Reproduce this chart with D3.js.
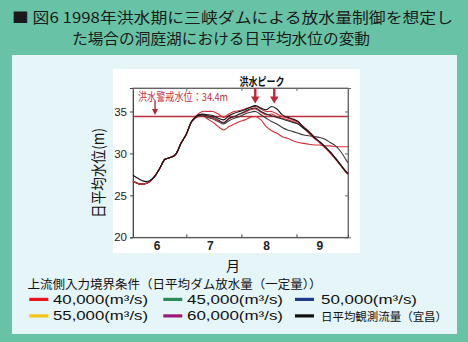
<!DOCTYPE html>
<html><head><meta charset="utf-8">
<script src="https://cdn.jsdelivr.net/npm/d3@7"></script>
<style>
html,body{margin:0;padding:0;background:#68c3a6;}
svg{display:block;}
</style></head>
<body>
<script>
// ---- data ----
const days = [0,3,6,9,12,15,18,21,24,27,30,33,36,39,42,45,48,51,54,57,60,63,66,69,72,75,78,81,84,87,90,93,96,99,102,105,108,111,114,117,120,121];
const common = [null,null,null,null,27.2,28.2,29.3,29.5,29.9,31.2,32.3,33.8];
const obsStart = [27.4,27.0,26.7,26.7];
const simStart = [26.7,26.4,26.35,26.6];
const observed = [34.5,34.7,34.6,34.5,34.2,34.0,34.5,34.8,35.0,35.2,35.5,35.7,35.4,35.2,35.6,35.3,34.6,34.3,34.1,33.8,33.1,32.6,31.9,31.4,30.8,30.2,29.4,28.6,27.8,27.6];
const q60 = [34.6,35.0,35.0,35.0,34.7,34.3,34.7,35.0,35.1,35.3,35.5,35.6,35.3,35.0,35.0,34.7,34.4,34.2,34.0,33.7,33.2,32.6,32.0,31.3,30.7,30.1,29.4,28.6,27.8,27.5];
const q55 = [34.5,34.6,34.5,34.3,34.0,33.6,34.2,34.4,34.7,35.0,35.3,35.4,35.0,34.7,34.5,34.3,34.1,33.9,33.7,33.5,33.0,32.5,31.9,31.4,30.8,30.1,29.4,28.6,27.8,27.6];
const q50 = [34.5,34.6,34.4,34.2,33.9,33.7,34.1,34.4,34.7,34.9,35.2,35.3,34.9,34.6,34.7,34.4,34.2,34.0,33.8,33.5,33.0,32.4,31.8,31.3,30.7,30.0,29.3,28.5,27.7,27.5];
const q45 = [34.4,34.5,34.3,34.1,33.8,33.5,33.9,34.2,34.4,34.7,34.9,35.0,34.6,34.2,33.8,33.5,33.1,32.8,32.6,32.4,32.2,32.1,32.0,31.9,31.7,31.3,30.9,30.2,29.2,28.9];
const q40 = [34.3,34.5,34.1,33.7,33.2,32.8,33.2,33.5,33.8,34.0,34.3,34.4,34.0,33.2,32.7,32.4,32.0,31.8,31.5,31.3,31.2,31.1,31.0,31.0,30.9,30.9,30.8,30.8,30.8,30.8];
const lineColors = ["#d8303c","#3a3a3a","#d8303c","#2a2a2a","#d8303c","#111111"];
const warningLevel = 34.4;
const warningArrowDay = 12.4;
const peakDays = [68.8, 79.5];
const monthBoundaryDays = [30, 61, 92];
const monthLabels = ["6","7","8","9"];
const monthLabelDays = [13.5, 43.5, 75.2, 105.2];
const yTicks = [20,25,30,35];
const legendLabels = ["40,000(m³/s)","45,000(m³/s)","50,000(m³/s)","55,000(m³/s)","60,000(m³/s)","日平均観測流量（宜昌）"];
const legendColors = ["#e8141c","#2e8a58","#1c3a8e","#f4c51a","#9c1875","#111111"];

// ---- build series ----
function build(start, tail){ return start.concat(common.slice(4)).concat(tail); }
const seriesVals = [
  build(simStart,q40), build(simStart,q45), build(simStart,q50),
  build(simStart,q55), build(simStart,q60), build(obsStart,observed)
];

const W=468,H=342;
const svg=d3.select("body").append("svg").attr("width",W).attr("height",H);
svg.append("rect").attr("width",W).attr("height",H).attr("fill","#68c3a6");

const jp='"Noto Sans CJK JP","Noto Sans",sans-serif';
const lat='"Liberation Sans", Arial, sans-serif';
// title
svg.append("text").attr("x",12).attr("y",16).attr("dominant-baseline","central")
  .attr("font-family",jp).attr("font-size",14.5).attr("fill","#1a1a1a")
  .attr("textLength",441).attr("lengthAdjust","spacingAndGlyphs")
  .text("■ 図6 1998年洪水期に三峡ダムによる放水量制御を想定し");
svg.append("text").attr("x",72).attr("y",37).attr("dominant-baseline","central")
  .attr("font-family",jp).attr("font-size",14.5).attr("fill","#1a1a1a")
  .attr("textLength",298).attr("lengthAdjust","spacingAndGlyphs")
  .text("た場合の洞庭湖における日平均水位の変動");

// panel
svg.append("rect").attr("x",12).attr("y",55).attr("width",445).attr("height",279).attr("fill","#e5f5f8");
svg.append("rect").attr("x",113).attr("y",69).attr("width",247).attr("height",184).attr("fill","#ffffff");

const x=d3.scaleLinear().domain([0,121]).range([133,348]);
const y=d3.scaleLinear().domain([20,37.8]).range([237.3,88]);

// frame
const g=svg.append("g");
g.append("rect").attr("x",x(0)).attr("y",y(37.8)).attr("width",x(121)-x(0)).attr("height",y(20)-y(37.8))
  .attr("fill","none").attr("stroke","#666").attr("stroke-width",0.8);

// y axis
const yAxis=d3.axisLeft(y).tickValues(yTicks).tickSize(3).tickPadding(3);
const ya=g.append("g").attr("transform",`translate(${x(0)},0)`).call(yAxis);
ya.select(".domain").attr("stroke","#444");
ya.selectAll(".tick line").attr("stroke","#444");
ya.selectAll(".tick text").attr("font-family",lat).attr("font-size",11.5).attr("fill","#222");
// right ticks
const yr=g.append("g").attr("transform",`translate(${x(121)},0)`).call(d3.axisRight(y).tickValues(yTicks).tickSize(3).tickFormat(""));
yr.select(".domain").attr("stroke","#666");
yr.selectAll(".tick line").attr("stroke","#666").attr("transform","translate(-3,0)");

// x axis ticks at month boundaries
const xa=g.append("g").attr("transform",`translate(0,${y(20)})`)
  .call(d3.axisBottom(x).tickValues(monthBoundaryDays).tickSize(-3).tickFormat(""));
xa.select(".domain").attr("stroke","#444");
xa.selectAll(".tick line").attr("stroke","#444");
const xt=g.append("g").attr("transform",`translate(0,${y(37.8)})`)
  .call(d3.axisTop(x).tickValues(monthBoundaryDays).tickSize(-3).tickFormat(""));
xt.select(".domain").attr("stroke","#666");
xt.selectAll(".tick line").attr("stroke","#666");

g.selectAll(".mlab").data(monthLabels).enter().append("text")
  .attr("x",(d,i)=>x(monthLabelDays[i])).attr("y",246).attr("text-anchor","middle").attr("dominant-baseline","central")
  .attr("font-family",lat).attr("font-size",12).attr("font-weight","bold").attr("fill","#222")
  .text(d=>d);

// warning line
g.append("line").attr("x1",x(0)).attr("x2",x(121)).attr("y1",y(warningLevel)).attr("y2",y(warningLevel))
  .attr("stroke","#b8303e").attr("stroke-width",1.5);

// series
const line=d3.line().x((d,i)=>x(days[i])).y(d=>y(d)).curve(d3.curveCatmullRom.alpha(0.5));
g.selectAll(".series").data(seriesVals).enter().append("path")
  .attr("d",d=>line(d)).attr("fill","none")
  .attr("stroke",(d,i)=>lineColors[i]).attr("stroke-width",1.1).attr("stroke-linejoin","round");

// annotation: warning
g.append("text").attr("x",138).attr("y",95.5).attr("dominant-baseline","central")
  .attr("font-family",jp).attr("font-size",11).attr("fill","#c0303c")
  .attr("textLength",90).attr("lengthAdjust","spacingAndGlyphs").text("洪水警戒水位：34.4m");
function arrow(cx, y0, y1, shaftW, headW, headL, color){
  g.append("line").attr("x1",cx).attr("x2",cx).attr("y1",y0).attr("y2",y1-headL+1)
    .attr("stroke",color).attr("stroke-width",shaftW);
  g.append("path").attr("d",`M${cx-headW/2},${y1-headL}L${cx+headW/2},${y1-headL}L${cx},${y1}Z`).attr("fill",color);
}
arrow(x(warningArrowDay),101,115,1.4,6,6,"#b02a38");
g.append("text").attr("x",262).attr("y",80.5).attr("text-anchor","middle").attr("dominant-baseline","central")
  .attr("font-family",jp).attr("font-size",11).attr("font-weight","bold").attr("fill","#111")
  .attr("textLength",45).attr("lengthAdjust","spacingAndGlyphs").text("洪水ピーク");
peakDays.forEach(d=>arrow(x(d),88,103.5,2.4,8.5,7,"#c0283a"));

// y title
svg.append("text").attr("transform","translate(97,173) rotate(-90)").attr("text-anchor","middle").attr("dominant-baseline","central")
  .attr("font-family",jp).attr("font-size",15).attr("fill","#111")
  .attr("textLength",90).attr("lengthAdjust","spacingAndGlyphs").text("日平均水位(m)");

// x title
svg.append("text").attr("x",233).attr("y",265).attr("text-anchor","middle").attr("dominant-baseline","central")
  .attr("font-family",jp).attr("font-size",14).attr("fill","#111").text("月");

// legend
svg.append("text").attr("x",27.5).attr("y",283.8).attr("dominant-baseline","central")
  .attr("font-family",jp).attr("font-size",12).attr("fill","#111")
  .attr("textLength",294).attr("lengthAdjust","spacingAndGlyphs").text("上流側入力境界条件（日平均ダム放水量（一定量））");
const swX=[29.3,163.3,295], txX=[53,187,321], rowY=[299.4,315.9];
const txW=[95,96,96,95,96,126];
legendLabels.forEach((lab,i)=>{
  const c=i%3, r=Math.floor(i/3);
  svg.append("rect").attr("x",swX[c]).attr("y",rowY[r]-1.6).attr("width",19).attr("height",3.2).attr("fill",legendColors[i]);
  svg.append("text").attr("x",txX[c]).attr("y",rowY[r]).attr("dominant-baseline","central")
    .attr("font-family",i===5?jp:lat).attr("font-size",i===5?11.5:13.5).attr("fill","#111")
    .attr("textLength",txW[i]).attr("lengthAdjust","spacingAndGlyphs").text(lab);
});
</script>
</body></html>
